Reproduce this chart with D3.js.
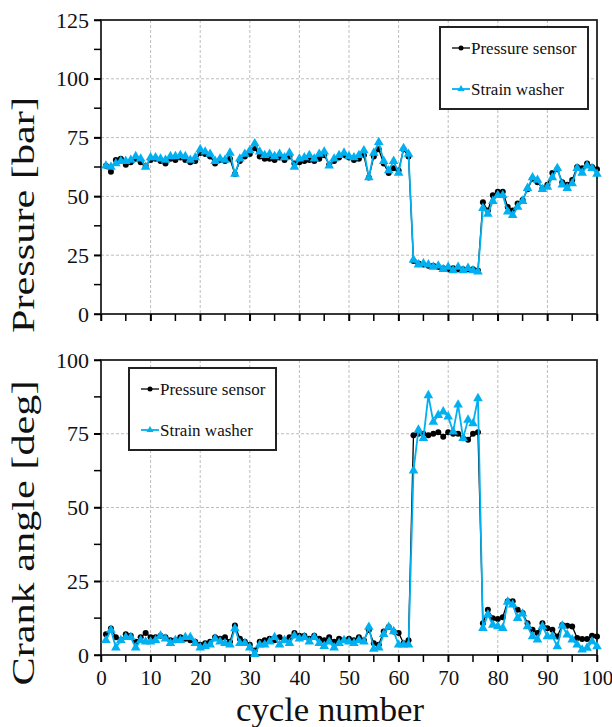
<!DOCTYPE html>
<html><head><meta charset="utf-8">
<script src="https://cdn.jsdelivr.net/npm/d3@7"></script>
<style>body{margin:0;background:#fff}svg{display:block}</style>
</head><body><svg id="c" width="612" height="727"></svg>
<script>
const cycles = d3.range(1, 101);
const seriesNames = ["Pressure sensor", "Strain washer"];
const xTicks = d3.range(0, 101, 10);
const xMinorTicks = d3.range(0, 101, 5);
const yTicksTop = [0, 25, 50, 75, 100, 125];
const yMinorTop = d3.range(0, 126, 12.5);
const yTicksBottom = [0, 25, 50, 75, 100];
const yMinorBottom = d3.range(0, 101, 12.5);

const pressureSensorBar = [
 63,60.5,65.5,66,63.5,64.5,66,64.5,63,65.5,
 66,65,64,66,65.5,66.5,65.5,64.5,65,68.5,
 68,67,64,65.5,65,66,59.5,65,67,68,
 70.5,67,66,66,65.5,66.5,65.5,67,64,64.5,
 65,65.5,65,66,67.5,63.5,65,66.5,67.5,66.5,
 65.5,66,67.5,58,67,70,64,60,62,61,
 70,67,22.5,21.5,21,20.5,20.5,20,19.5,19,
 19.5,19,19,19,19,18.5,47.5,44,50.5,52,
 52,45.5,44,47,48.5,53,57.5,56,53.5,55,
 60,61.5,56,55,57,62.5,62,64,62.5,61.5];
const strainWasherBar = [
 63,62.5,64,65,65,65.5,67,66,62.5,66.5,
 66.5,66,65.5,67,67,67.5,67,65.5,66.5,70,
 69,68,65,66,65.5,68.5,59.5,66,68,69.5,
 72.5,69,67.5,68,67,68,66.5,68.5,62.5,66,
 66.5,67.5,66,68,69,63,66,67.5,68.5,67,
 66.5,67.5,69.5,58,68.5,73,65,61,65,60,
 70.5,68,23,21,21.5,21,20,20.5,19,20,
 18.5,20,18.5,19.5,18.5,18,45,42.5,48,50.5,
 50.5,43.5,42,45.5,48,53.5,58,57,53,54,
 58,62,55,53.5,55.5,62,60,63,62,59.5];
const pressureSensorDeg = [
 7,9,6,5,7,6.5,4.5,6,7.5,6,
 6,6.5,6,5,5,6,5.5,5,4.5,3.5,
 4,4.5,6,5.5,6,4.5,10,5.5,4.5,3.5,
 1.5,4.5,5,5.5,5,6,5,6,7.5,6.5,
 6.5,5.5,6.5,5.5,5,6,4.5,5.5,5,5.5,
 5,6,5,8.5,4,3.5,8,9.5,8,7.5,
 4,5,74.5,75,75,74.5,75,75.5,74,75.5,
 75,75,73.5,73,75,75.5,10.8,15.3,12.5,12.2,
 12.8,18.2,18.2,15.3,14.2,10.8,8.6,7.5,10.8,9.1,
 8.6,6.3,10.2,9.9,9.7,5.8,5.4,5.4,6.5,6.3];
const strainWasherDeg = [
 5,8.5,2.5,5,6,6,2.5,5,4.5,4.5,
 5,6.5,5.5,4,5,5,6,6,4,2.5,
 3,3.5,5.5,4.5,4,3.5,9,4,4,2.5,
 0.3,3.5,3.5,4.5,6,3.5,5,4,6.5,5.5,
 6,4.5,6,4,3,4.5,2.5,4,5,4.5,
 4,5,4.5,9.5,2,2.5,7,9.5,8,3.5,
 3.5,3.5,62.5,76.3,73.5,88,79,81.3,82.5,80.8,
 75.7,84.8,73.5,79.7,78.5,87,9.1,13.7,10.2,9.7,
 9.1,18,17,12.5,14,9.7,6.3,5.2,9.7,6.3,
 6.3,2.9,9.9,6.9,5.2,3.5,1.8,2.4,4.6,2.9];

const FONT = "'Liberation Serif','Times New Roman',serif";
const BLUE = "#00b0f0";
const svg = d3.select("#c");
const x = d3.scaleLinear().domain([0, 100]).range([101, 597]);

function panel(opt) {
  const y = d3.scaleLinear().domain([0, opt.max]).range([opt.bottom, opt.top]);
  const g = svg.append("g");
  // grid
  g.selectAll(".gx").data(xTicks.slice(1, -1)).join("line")
    .attr("x1", d => x(d)).attr("x2", d => x(d)).attr("y1", opt.top).attr("y2", opt.bottom)
    .attr("stroke", "#bdbdbd").attr("stroke-width", 1).attr("stroke-dasharray", "3,2");
  g.selectAll(".gy").data(opt.yTicks.slice(1, -1)).join("line")
    .attr("y1", d => y(d)).attr("y2", d => y(d)).attr("x1", x(0)).attr("x2", x(100))
    .attr("stroke", "#bdbdbd").attr("stroke-width", 1).attr("stroke-dasharray", "3,2");
  // frame
  g.append("rect").attr("x", x(0)).attr("y", opt.top).attr("width", x(100) - x(0)).attr("height", opt.bottom - opt.top)
    .attr("fill", "none").attr("stroke", "#222").attr("stroke-width", 1.8);
  // y axis
  const ya = d3.axisLeft(y).tickValues(opt.yTicks).tickSize(7).tickPadding(5).tickFormat(d3.format("d"));
  const yg = g.append("g").attr("transform", `translate(${x(0)},0)`).call(ya);
  yg.select(".domain").remove();
  yg.selectAll("text").attr("font-family", FONT).attr("font-size", 22).attr("fill", "#111");
  yg.selectAll("line").attr("stroke-width", 1.5);
  g.selectAll(".ym").data(opt.yMinor).join("line")
    .attr("x1", x(0) - 7).attr("x2", x(0)).attr("y1", d => y(d)).attr("y2", d => y(d))
    .attr("stroke", "#000").attr("stroke-width", 1.5);
  // x axis
  const xa = d3.axisBottom(x).tickValues(xTicks).tickSize(7).tickPadding(8).tickFormat(opt.xLabels ? d3.format("d") : () => "");
  const xg = g.append("g").attr("transform", `translate(0,${opt.bottom})`).call(xa);
  xg.select(".domain").remove();
  xg.selectAll("text").attr("font-family", FONT).attr("font-size", 21).attr("fill", "#111");
  xg.selectAll("line").attr("stroke-width", 1.5);
  g.selectAll(".xm").data(xMinorTicks).join("line")
    .attr("x1", d => x(d)).attr("x2", d => x(d)).attr("y1", opt.bottom).attr("y2", opt.bottom + 7)
    .attr("stroke", "#000").attr("stroke-width", 1.5);
  // y title
  g.append("text").attr("transform", `translate(34,${opt.titleY}) rotate(-90)`)
    .attr("text-anchor", "middle").attr("font-family", FONT).attr("font-size", 32)
    .attr("textLength", opt.titleLen).attr("lengthAdjust", "spacingAndGlyphs")
    .attr("fill", "#111").text(opt.title);

  // series
  const d1 = cycles.map((c, i) => [c, opt.s1[i]]);
  const d2 = cycles.map((c, i) => [c, opt.s2[i]]);
  const line = d3.line().x(d => x(d[0])).y(d => y(d[1]));
  g.append("path").datum(d1).attr("d", line).attr("fill", "none").attr("stroke", "#000").attr("stroke-width", 1.3);
  g.selectAll(".p1").data(d1).join("circle").attr("cx", d => x(d[0])).attr("cy", d => y(d[1])).attr("r", 3).attr("fill", "#000");
  g.append("path").datum(d2).attr("d", line).attr("fill", "none").attr("stroke", BLUE).attr("stroke-width", 1.8);
  const tri = d3.symbol().type(d3.symbolTriangle).size(40);
  g.selectAll(".p2").data(d2).join("path").attr("d", tri)
    .attr("transform", d => `translate(${x(d[0])},${y(d[1])})`).attr("fill", BLUE);

  // legend
  const L = opt.legend;
  const lg = g.append("g");
  lg.append("rect").attr("x", L.x).attr("y", L.y).attr("width", L.w).attr("height", L.h)
    .attr("fill", "#fff").attr("stroke", "#222").attr("stroke-width", 2);
  seriesNames.forEach((name, i) => {
    const ly = L.y + 21 + i * 41;
    const lx = L.x + 12;
    lg.append("line").attr("x1", lx).attr("x2", lx + 18).attr("y1", ly).attr("y2", ly)
      .attr("stroke", i === 0 ? "#000" : BLUE).attr("stroke-width", i === 0 ? 1.3 : 1.8);
    if (i === 0) lg.append("circle").attr("cx", lx + 9).attr("cy", ly).attr("r", 2.5).attr("fill", "#000");
    else lg.append("path").attr("d", d3.symbol().type(d3.symbolTriangle).size(22)).attr("transform", `translate(${lx + 9},${ly})`).attr("fill", BLUE);
    lg.append("text").attr("x", lx + 19).attr("y", ly + 6).attr("font-family", FONT).attr("font-size", 17)
      .attr("fill", "#111").text(name);
  });
}

panel({top: 20, bottom: 314, max: 125, yTicks: yTicksTop, yMinor: yMinorTop, xLabels: false,
  title: "Pressure [bar]", titleY: 215, titleLen: 236, s1: pressureSensorBar, s2: strainWasherBar,
  legend: {x: 440, y: 27, w: 148, h: 82}});
panel({top: 360, bottom: 655, max: 100, yTicks: yTicksBottom, yMinor: yMinorBottom, xLabels: true,
  title: "Crank angle [deg]", titleY: 533, titleLen: 305, s1: pressureSensorDeg, s2: strainWasherDeg,
  legend: {x: 129, y: 368, w: 147, h: 82}});

svg.append("text").attr("x", 330).attr("y", 721).attr("text-anchor", "middle")
  .attr("font-family", FONT).attr("font-size", 33).attr("textLength", 188).attr("lengthAdjust", "spacingAndGlyphs")
  .attr("fill", "#111").text("cycle number");
</script></body></html>
